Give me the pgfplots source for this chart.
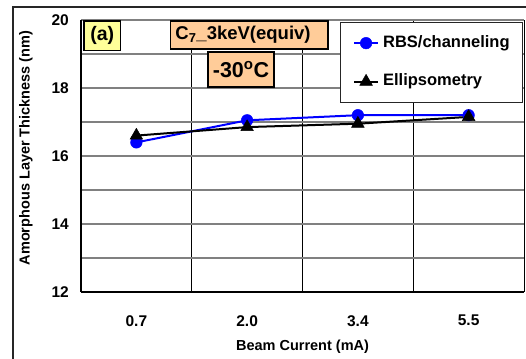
\documentclass[border=0pt]{standalone}
\usepackage{pgfplots}
\pgfplotsset{compat=1.18}
\usepackage{fontspec}
\setmainfont{Liberation Sans}
\definecolor{gridgray}{RGB}{128,128,128}
\definecolor{boxyellow}{RGB}{255,255,153}
\definecolor{boxorange}{RGB}{255,204,153}
\begin{document}
\begin{tikzpicture}[x=1pt,y=1pt]
\path[use as bounding box] (0pt,0pt) rectangle (526pt,358pt);
\draw[line width=1.3pt, black!85] (13pt,-5pt) -- (13pt,351pt) -- (535pt,351pt);
\begin{axis}[
  at={(81pt,66pt)}, anchor=south west,
  scale only axis, width=443pt, height=272pt,
  xmin=-0.5, xmax=3.5, ymin=12, ymax=20,
  xtick={0,1,2,3}, xticklabels={0.7,2.0,3.4,5.5},
  minor xtick={0.5,1.5,2.5,3.5},
  ytick={12,14,16,18,20}, minor ytick={13,15,17,19},
  xmajorgrids=false, xminorgrids=true, ymajorgrids=true, yminorgrids=true,
  x grid style={black, line width=0.8pt},
  y grid style={gridgray, line width=1.2pt},
  axis x line*=bottom, axis y line*=left,
  axis line style={-, black, line width=1.5pt},
  major tick length=0pt, minor tick length=0pt,
  /pgf/number format/assume math mode=true,
  ticklabel style={font=\fontsize{15.5}{18}\selectfont\bfseries, inner sep=0pt},
  yticklabel style={anchor=east, xshift=-12pt},
  xticklabel style={anchor=center, yshift=-28.7pt},
  xlabel={Beam Current (mA)},
  xlabel style={at={(rel axis cs:0.5,-0.2011)}, anchor=center, font=\fontsize{14.5}{16}\selectfont\bfseries},
  ylabel={Amorphous Layer Thickness (nm)},
  ylabel style={at={(rel axis cs:-0.1242,0.5294)}, anchor=center, font=\fontsize{14.5}{16}\selectfont\bfseries},
  legend cell align=left,
  legend image code/.code={\draw[mark repeat=2,mark phase=2,#1] plot coordinates {(0pt,0pt) (12pt,0pt) (24pt,0pt)};},
  legend style={at={(1,1)}, anchor=north east, xshift=-1pt, yshift=-2pt,
    draw=black!85, line width=0.8pt, inner xsep=13pt, inner ysep=13pt, row sep=23pt,
    nodes={inner sep=0pt, text height=12pt, text depth=3.5pt, font=\fontsize{16.5}{18}\selectfont\bfseries},
    /tikz/every odd column/.style={column sep=4pt}},
]
\addplot[blue, line width=2pt, mark=*, mark size=5.8pt, mark options={solid, fill=blue, line width=0.5pt}]
  coordinates {(0,16.4) (1,17.05) (2,17.2) (3,17.2)};
\addlegendentry{RBS/channeling}
\addplot[black, line width=2pt, mark=triangle*, mark size=7.3pt, mark options={solid, fill=black, line width=0.5pt}]
  coordinates {(0,16.6) (1,16.85) (2,16.95) (3,17.15)};
\addlegendentry{Ellipsometry}
\end{axis}
\node[draw, line width=1.5pt, fill=boxyellow, minimum width=36.7pt, minimum height=29.7pt, inner sep=0pt,
  font=\fontsize{19.5}{22}\selectfont\bfseries] at (102.3pt,322.2pt) {(a)};
\node[draw, line width=1.5pt, fill=boxorange, minimum width=157.3pt, minimum height=28pt, inner sep=0pt] at (249.3pt,323pt) {};
\node[inner sep=0pt, font=\fontsize{18.5}{22}\selectfont\bfseries] at (243pt,323pt) {C\textsubscript{7}\_3keV(equiv)};
\node[draw, line width=1.5pt, fill=boxorange, minimum width=66pt, minimum height=35pt, inner sep=0pt,
  font=\fontsize{21.5}{24}\selectfont\bfseries] at (241pt,288.5pt) {-30\textsuperscript{o}C};
\end{tikzpicture}
\end{document}
